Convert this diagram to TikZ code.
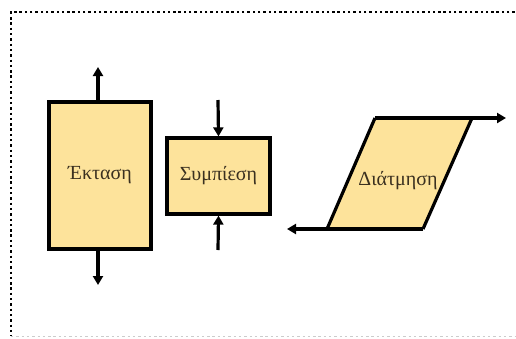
\documentclass[tikz,border=0pt]{standalone}
\usepackage{fontspec}
\setmainfont{Liberation Serif}
\usetikzlibrary{arrows.meta}
\definecolor{boxfill}{HTML}{FDE39B}
\definecolor{txt}{HTML}{3A3020}
\tikzset{
  box/.style={draw=black, line width=3.2pt, fill=boxfill, inner sep=0pt, font=\fontsize{20}{24}\selectfont, text=txt},
  force/.style={line width=3.2pt, -{Triangle[length=9pt,width=10pt]}},
  frame/.style={line width=2.6pt, dash pattern=on 2.4pt off 2.9pt, black}
}
\begin{document}
\begin{tikzpicture}[x=1pt,y=-1pt]
\useasboundingbox (0,0) rectangle (516,338);
\draw[frame] (520,12) -- (11,12) -- (11,336);
\draw[frame, black!20, line width=1.5pt] (11,336.5) -- (520,336.5);
% Ektasi
\node[box, minimum width=102pt, minimum height=147pt] (ext) at (100,175.5) {Έκταση};
\coordinate (extup) at (98,67);
\coordinate (extdn) at (98,285);
\draw[force] (ext.north -| extup) -- (extup);
\draw[force] (ext.south -| extdn) -- (extdn);
% Sympiesi
\node[box, minimum width=103pt, minimum height=76pt] (sym) at (218.5,176) {Συμπίεση};
\coordinate (symtop) at (218,100);
\coordinate (symbot) at (218,250);
\draw[force] (symtop) -- (sym.north);
\draw[force] (symbot) -- (sym.south);
% Diatmisi
\coordinate (p1) at (327,229);
\coordinate (p2) at (375,118);
\coordinate (p3) at (472,118);
\coordinate (p4) at (423,229);
\fill[boxfill] (p1) -- (p2) -- (p3) -- (p4) -- cycle;
\draw[line width=3.2pt, line join=miter] (p1) -- (p2);
\draw[line width=3.2pt] (p3) -- (p4);
\node[font=\fontsize{20}{24}\selectfont, text=txt] (dia) at (398,181) {Διάτμηση};
\coordinate (dright) at (506,118);
\coordinate (dleft) at (287,229);
\draw[force] (p2) -- (dright);
\draw[force] (p4) -- (dleft);
\end{tikzpicture}
\end{document}
